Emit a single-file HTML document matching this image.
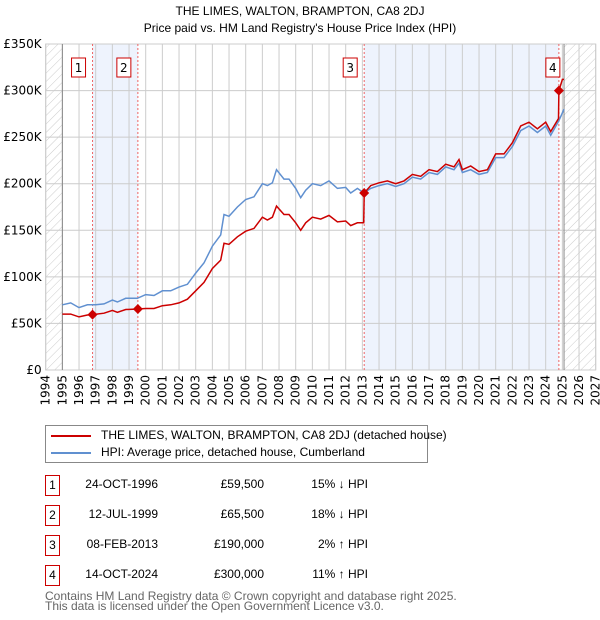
<!DOCTYPE html>
<html><head><meta charset="utf-8"><style>
body{margin:0;background:#fff;font-family:"Liberation Sans","DejaVu Sans",sans-serif;}
#wrap{position:relative;width:600px;height:620px;overflow:hidden}
.t{position:absolute;font-size:12px;color:#000;white-space:nowrap}
.box{position:absolute;border:1px solid #c00;width:13px;height:19px;text-align:center;font-size:12px;line-height:19px}
svg text{font-family:"DejaVu Sans","Liberation Sans",sans-serif}
</style></head><body><div id="wrap">
<div class="t" style="left:0;width:600px;text-align:center;top:3px;font-size:12px;line-height:17px">THE LIMES, WALTON, BRAMPTON, CA8 2DJ<br>Price paid vs. HM Land Registry's House Price Index (HPI)</div>
<svg id="chart" width="600" height="420" style="position:absolute;left:0;top:0"></svg>
<div style="position:absolute;left:45px;top:425px;width:381px;height:36px;border:1px solid #888">
<div style="position:absolute;left:5px;top:9px;width:40px;height:2px;background:#c00"></div>
<div class="t" style="left:55px;top:2px">THE LIMES, WALTON, BRAMPTON, CA8 2DJ (detached house)</div>
<div style="position:absolute;left:5px;top:26px;width:40px;height:2px;background:#6090d0"></div>
<div class="t" style="left:55px;top:19px">HPI: Average price, detached house, Cumberland</div>
</div>
<div id="tbl"></div>
<div class="t" style="left:45px;top:591px;color:#666;font-size:12px;line-height:10px">Contains HM Land Registry data © Crown copyright and database right 2025.<br>This data is licensed under the Open Government Licence v3.0.</div>
</div>
<script>
const hpiYears=[1995,1995.5,1996,1996.5,1997,1997.5,1998,1998.3,1998.8,1999.5,2000,2000.5,2001,2001.5,2002,2002.5,2003,2003.5,2004,2004.5,2004.7,2005,2005.5,2006,2006.5,2007,2007.3,2007.6,2007.85,2008.3,2008.6,2009,2009.3,2009.6,2010,2010.5,2011,2011.5,2012,2012.3,2012.7,2013.1,2013.5,2014,2014.5,2015,2015.5,2016,2016.5,2017,2017.5,2018,2018.5,2018.8,2019,2019.5,2020,2020.5,2021,2021.5,2022,2022.5,2023,2023.5,2024,2024.3,2024.8,2025.1];
const hpiValues=[70,72,67,70,70,71,75,73,77,77,81,80,85,85,89,92,104,115,133,145,167,165,175,183,186,200,198,201,215,205,205,195,185,193,200,198,203,195,196,190,195,190,195,198,200,197,200,207,205,212,210,218,215,222,212,215,210,212,228,228,240,257,262,255,262,252,268,280];
const ppYears=[1995,1995.5,1996,1996.5,1996.81,1997.5,1998,1998.3,1998.8,1999.53,2000,2000.5,2001,2001.5,2002,2002.5,2003,2003.5,2004,2004.5,2004.7,2005,2005.5,2006,2006.5,2007,2007.3,2007.6,2007.85,2008.3,2008.6,2009,2009.3,2009.6,2010,2010.5,2011,2011.5,2012,2012.3,2012.7,2013.08,2013.11,2013.5,2014,2014.5,2015,2015.5,2016,2016.5,2017,2017.5,2018,2018.5,2018.8,2019,2019.5,2020,2020.5,2021,2021.5,2022,2022.5,2023,2023.5,2024,2024.3,2024.77,2024.79,2025,2025.1];
const ppValues=[60,60,57,59,59.5,61,64,62,65,65.5,66,66,69,70,72,76,85,94,109,118,136,135,143,149,152,164,161,164,176,167,167,158,150,158,164,162,166,159,160,155,158,158,190,198,201,203,200,203,210,208,215,213,221,218,226,215,219,213,215,232,232,244,262,266,259,266,256,270,300,312,312];
const saleYears=[1996.81,1999.53,2013.11,2024.79];
const saleValues=[59.5,65.5,190,300];
const saleLabels=["1","2","3","4"];
const saleDates=["24-OCT-1996","12-JUL-1999","08-FEB-2013","14-OCT-2024"];
const salePrices=["£59,500","£65,500","£190,000","£300,000"];
const saleDiffs=["15% ↓ HPI","18% ↓ HPI","2% ↑ HPI","11% ↑ HPI"];
const yTicks=[0,50,100,150,200,250,300,350];
const yLabels=["£0","£50K","£100K","£150K","£200K","£250K","£300K","£350K"];
const X0=45.7,X1=595.7,Y0=370,Y1=44;
const x=y=>X0+(y-1994)*(X1-X0)/33;
const yv=v=>Y0-v*(Y0-Y1)/350;
const svg=document.getElementById('chart');const NS='http://www.w3.org/2000/svg';
function mk(t,a,p){const e=document.createElementNS(NS,t);for(const k in a)e.setAttribute(k,a[k]);(p||svg).appendChild(e);return e;}
const defs=mk('defs',{});
const pat=mk('pattern',{id:'h',width:6,height:6,patternUnits:'userSpaceOnUse',patternTransform:'rotate(45)'},defs);
mk('line',{x1:0,y1:0,x2:0,y2:6,stroke:'#ccc','stroke-width':1},pat);
let e;
e=mk('rect',{x:x(1996.81),y:Y1,width:x(1999.53)-x(1996.81),height:Y0-Y1,fill:'#eef3fd'});

e=mk('rect',{x:x(2013.11),y:Y1,width:x(2024.79)-x(2013.11),height:Y0-Y1,fill:'#eef3fd'});

e=mk('rect',{x:X0,y:Y1,width:x(1995)-X0,height:Y0-Y1,fill:'url(#h)'});

e=mk('rect',{x:x(2025.1),y:Y1,width:X1-x(2025.1),height:Y0-Y1,fill:'url(#h)'});

for(let yr=1994;yr<=2027;yr++){
 e=mk('line',{x1:x(yr),x2:x(yr),y1:Y1,y2:Y0,stroke:'#ccc','stroke-width':1});
 
 e=mk('text',{x:0,y:0,transform:`translate(${x(yr)+4},${Y0+5}) rotate(-90)`,'text-anchor':'end','font-size':12,fill:'#000'});e.textContent=yr;
 
}
yTicks.forEach((v,i)=>{
 e=mk('line',{x1:X0,x2:X1,y1:yv(v),y2:yv(v),stroke:'#ccc','stroke-width':1});
 
 e=mk('text',{x:X0-4,y:yv(v)+4,'text-anchor':'end','font-size':12,fill:'#000'});e.textContent=yLabels[i];
 
});
e=mk('rect',{x:X0,y:Y1,width:X1-X0,height:Y0-Y1,fill:'none',stroke:'#ccc'});
e=mk('line',{x1:x(1995),x2:x(1995),y1:Y1,y2:Y0,stroke:'#888'});
e=mk('line',{x1:x(2025.1),x2:x(2025.1),y1:Y1,y2:Y0,stroke:'#888'});
saleYears.forEach((yr,i)=>{
 e=mk('line',{x1:x(yr),x2:x(yr),y1:Y1,y2:Y0,stroke:'#e66','stroke-width':1,'stroke-dasharray':'2,2'});
 
});
const pts=(ys,vs)=>ys.map((a,i)=>x(a).toFixed(1)+','+yv(vs[i]).toFixed(1)).join(' ');
e=mk('polyline',{points:pts(hpiYears,hpiValues),fill:'none',stroke:'#6090d0','stroke-width':1.5});

e=mk('polyline',{points:pts(ppYears,ppValues),fill:'none',stroke:'#c00','stroke-width':1.5});

saleYears.forEach((yr,i)=>{
 const cx=x(yr),cy=yv(saleValues[i]);
 e=mk('polygon',{points:`${cx},${cy-5} ${cx+5},${cy} ${cx},${cy+5} ${cx-5},${cy}`,fill:'#c00'});
 
 e=mk('rect',{x:(i==3?cx-13:cx-21),y:58,width:14,height:19,fill:'#fff',stroke:'#c00'});
 
 e=mk('text',{x:(i==3?cx-6:cx-14),y:72,'text-anchor':'middle','font-size':12});e.textContent=saleLabels[i];
 
});
const tbl=document.getElementById('tbl');
saleLabels.forEach((l,i)=>{
 const top=475+i*30;
 const r=document.createElement('div');
 
 
 r.innerHTML=`<div class="box" style="left:45px;top:${top}px">${l}</div>
<div class="t" style="left:70px;width:88px;text-align:right;top:${top+2}px">${saleDates[i]}</div>
<div class="t" style="left:180px;width:84px;text-align:right;top:${top+2}px">${salePrices[i]}</div>
<div class="t" style="left:290px;width:78px;text-align:right;top:${top+2}px">${saleDiffs[i]}</div>`;
 tbl.appendChild(r);
});
</script></body></html>
